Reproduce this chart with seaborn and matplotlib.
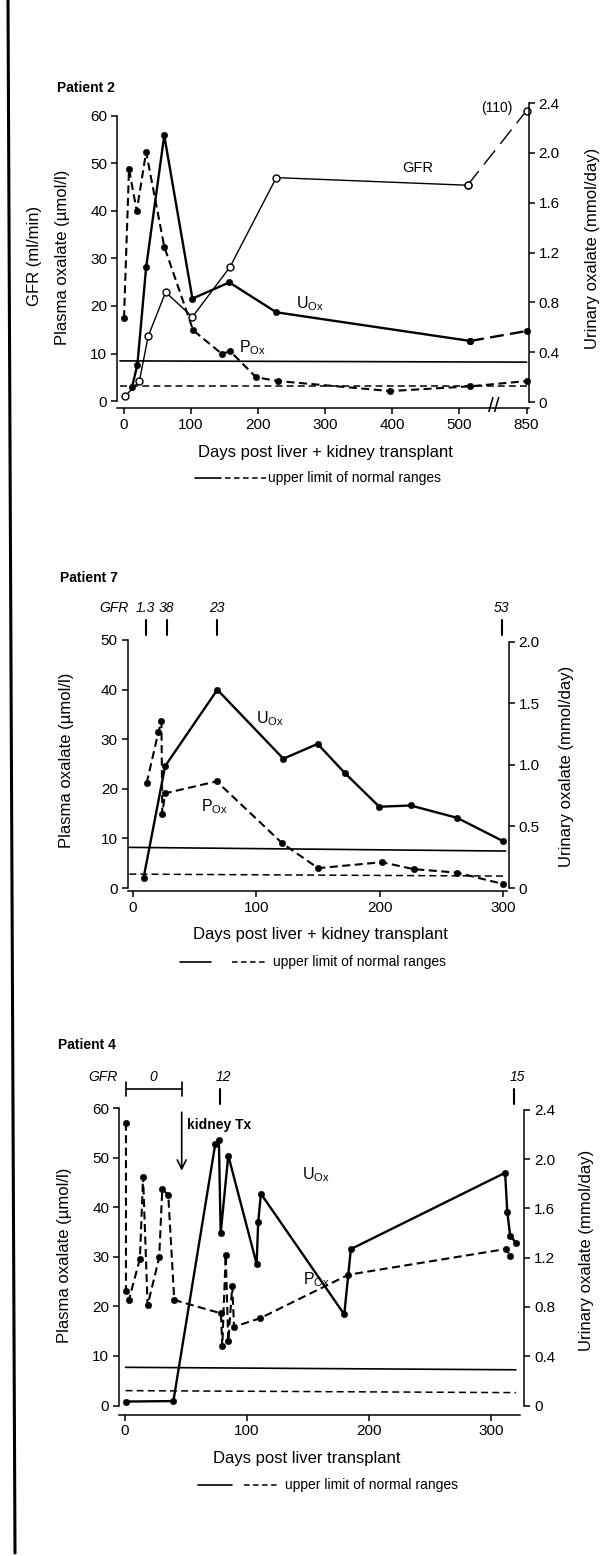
import matplotlib
matplotlib.use("Agg")
import matplotlib.pyplot as plt
import matplotlib.transforms as mtransforms
from matplotlib.lines import Line2D
import seaborn as sns

W, H = 608, 1556

# ---------------- Patient 2 (days; 850 is drawn after the axis break) ----------------
p2_pox_days = [0, 7.5, 19, 33, 60, 103, 146, 158, 197, 230, 397, 516, 850]
p2_pox = [17.4, 48.8, 40, 52.4, 32.5, 14.9, 9.9, 10.5, 5.0, 4.2, 2.1, 3.1, 4.2]
p2_uox_days = [12, 20, 33, 60, 102, 157, 227, 516, 850]
p2_uox = [0.12, 0.30, 1.08, 2.14, 0.83, 0.96, 0.72, 0.49, 0.57]
p2_gfr_days = [1.5, 23, 36, 62, 102, 158, 227, 512, 850]
p2_gfr = [1.0, 4.2, 13.6, 22.9, 17.7, 28.2, 47.0, 45.4, 61.1]
p2_norm_days = [-6, 850]
p2_norm_uox = [0.33, 0.32]
p2_norm_pox = [3.1, 3.1]
p2_xticks = [0, 100, 200, 300, 400, 500, 850]
p2_break_day, p2_break_pos = 850, 600

# ---------------- Patient 7 ----------------
p7_pox_days = [11, 20.5, 23, 23.7, 26, 67.8, 121, 150, 201.7, 227.5, 262.6, 300]
p7_pox = [21.1, 31.4, 33.6, 15.0, 19.1, 21.5, 9.0, 4.0, 5.2, 3.8, 3.1, 0.8]
p7_uox_days = [8.5, 26, 68.3, 121.8, 149.6, 172, 199.6, 225, 262.6, 300]
p7_uox = [0.08, 0.99, 1.61, 1.05, 1.17, 0.93, 0.66, 0.67, 0.57, 0.38]
p7_norm_days = [-3, 302]
p7_norm_uox = [0.33, 0.30]
p7_norm_pox = [2.8, 2.4]
p7_gfr_days = [10.3, 27.3, 68.3, 298.7]
p7_gfr_text = ["1.3", "38", "23", "53"]

# ---------------- Patient 4 ----------------
p4_pox_days = [1, 1, 3.4, 12.4, 15, 18.7, 28.2, 30.7, 35.6, 40.5, 78.7, 79.8,
               82.6, 84.7, 88, 89.4, 110.6, 183, 312, 315.5]
p4_pox = [57.1, 23.2, 21.3, 29.6, 46.2, 20.2, 29.9, 43.7, 42.5, 21.3, 18.6, 12.0,
          30.4, 13.0, 24.1, 15.9, 17.6, 26.4, 31.6, 30.2]
p4_uox_days = [0.7, 39.8, 74, 77, 78.5, 84.7, 107.9, 109.2, 111.4, 179.6, 185,
               311.2, 313, 315.3, 320.2]
p4_uox = [0.032, 0.036, 2.12, 2.16, 1.40, 2.03, 1.15, 1.49, 1.72, 0.74, 1.27,
          1.89, 1.57, 1.38, 1.32]
p4_norm_days = [0.7, 320]
p4_norm_uox = [0.31, 0.29]
p4_norm_pox = [3.0, 2.6]
p4_gfr_days = [78, 318.5]
p4_gfr_text = ["12", "15"]
p4_gfr_zero = [0.7, 46.6]
p4_kidney_tx_day = 46.6

sns.set_theme(style="ticks")
plt.rcParams['font.family'] = ['Liberation Sans', 'DejaVu Sans']
plt.rcParams['mathtext.fontset'] = 'custom'
plt.rcParams['mathtext.rm'] = 'Liberation Sans'
plt.rcParams['mathtext.it'] = 'Liberation Sans:italic'
plt.rcParams['lines.scale_dashes'] = False
plt.rcParams['axes.linewidth'] = 1.1
for k in ['text.color', 'axes.labelcolor', 'xtick.color', 'ytick.color', 'axes.edgecolor']:
    plt.rcParams[k] = 'black'

fig = plt.figure(figsize=(W / 100, H / 100), dpi=100)
fig.patch.set_facecolor('white')


def fx(x):
    return x / W


def fy(y):
    return 1 - y / H


def ftext(x, y, s, **kw):
    kw.setdefault('ha', 'center')
    kw.setdefault('va', 'center')
    fig.text(fx(x), fy(y), s, **kw)


def fline(x0, x1, y, **kw):
    fig.add_artist(Line2D([fx(x0), fx(x1)], [fy(y), fy(y)], transform=fig.transFigure,
                          color='black', **kw))


def panel(left, right, top, bottom, xlim, ylim_l, ylim_r, xb, yb_l, yb_r, drop):
    ax = fig.add_axes([fx(left), fy(bottom), (right - left) / W, (bottom - top) / H])
    ax2 = ax.twinx()
    ax.set_xlim(xlim)
    ax.set_ylim(ylim_l)
    ax2.set_ylim(ylim_r)
    ax.spines[['top', 'right']].set_visible(False)
    ax2.spines[['top', 'left', 'bottom']].set_visible(False)
    ax.spines['bottom'].set_position(('outward', drop * 0.72))
    ax.spines['bottom'].set_bounds(*xb)
    ax.spines['left'].set_bounds(*yb_l)
    ax2.spines['right'].set_bounds(*yb_r)
    for a in (ax, ax2):
        a.tick_params(direction='out', length=4.5, width=1.1, labelsize=11, pad=2.5)
        a.grid(False)
    ax.set_facecolor('none')
    return ax, ax2


def series(ax, x, y, dashes=None, marker='o', open_marker=False, lw=1.5, ms=4.6):
    sns.lineplot(x=x, y=y, ax=ax, sort=False, estimator=None, color='black',
                 linewidth=lw, marker=marker, markersize=ms,
                 markerfacecolor='white' if open_marker else 'black',
                 markeredgecolor='black', markeredgewidth=1.0 if open_marker else 0.4)
    line = ax.lines[-1]
    if dashes:
        line.set_dashes(dashes)
    line.set_clip_on(False)
    ax.set_xlabel('')
    ax.set_ylabel('')
    return line


def norm_lines(ax, ax2, days, uox, pox):
    series(ax2, days, uox, marker=None, lw=1.2)
    series(ax, days, pox, dashes=(5, 3), marker=None, lw=1.1)


def sub(s):
    return s[0] + r'$_{\mathrm{' + s[1:] + '}}$'


# =============== Patient 2 ===============
def p2pos(days):
    return [p2_break_pos if d == p2_break_day else d for d in days]


ax, ax2 = panel(117, 529, 103, 402, (-10.4, 603.6), (-0.2, 62.7), (0.016, 2.4),
                (-10.4, 603), (0, 60), (0, 2.4), 6)
norm_lines(ax, ax2, p2pos(p2_norm_days), p2_norm_uox, p2_norm_pox)
series(ax, p2pos(p2_pox_days), p2_pox, dashes=(5.8, 3.2))
series(ax2, p2pos(p2_uox_days[:-1]), p2_uox[:-1], lw=1.7)
series(ax2, p2pos(p2_uox_days[-2:]), p2_uox[-2:], dashes=(10, 4.5), lw=1.7)
series(ax, p2pos(p2_gfr_days[:-1]), p2_gfr[:-1], open_marker=True, lw=1.0, ms=5)
series(ax, p2pos(p2_gfr_days[-2:]), p2_gfr[-2:], open_marker=True, lw=1.0, ms=5, dashes=(13, 6))
ax.set_xticks(p2pos(p2_xticks), [str(t) for t in p2_xticks])
ax.set_yticks(range(0, 61, 10))
ax2.set_yticks([0, 0.4, 0.8, 1.2, 1.6, 2.0, 2.4], ['0', '0.4', '0.8', '1.2', '1.6', '2.0', '2.4'])
ftext(494, 407, '//', fontsize=15)

ftext(57, 88, 'Patient 2', ha='left', fontsize=10, fontweight='bold')
ftext(35, 256, 'GFR (ml/min)', rotation=90, fontsize=12)
ftext(63, 257, 'Plasma oxalate (\u00b5mol/l)', rotation=90, fontsize=12)
ftext(592, 248, 'Urinary oxalate (mmol/day)', rotation=90, fontsize=12)
ftext(325, 453, 'Days post liver + kidney transplant', fontsize=12)
ftext(418, 168, 'GFR', fontsize=10.5)
ftext(513, 108, '(110)', ha='right', fontsize=10)
ftext(310, 304, sub('UOx'), fontsize=11.5)
ftext(252, 348, sub('POx'), fontsize=11.5)
fline(195, 221, 478, lw=1.2)
fline(225, 266, 478, lw=1.1, dashes=(4, 2.5))
ftext(268, 478, 'upper limit of normal ranges', ha='left', fontsize=10)

# =============== Patient 7 ===============
ax, ax2 = panel(127.5, 509, 640, 888, (-4.5, 304.7), (0, 50), (0.03, 2.014),
                (-4.5, 303), (0, 50), (0, 2.0), 3)
norm_lines(ax, ax2, p7_norm_days, p7_norm_uox, p7_norm_pox)
series(ax, p7_pox_days, p7_pox, dashes=(5.8, 3.2))
series(ax2, p7_uox_days, p7_uox, lw=1.7)
ax.set_xticks([0, 100, 200, 300])
ax.set_yticks(range(0, 51, 10))
ax2.set_yticks([0, 0.5, 1.0, 1.5, 2.0], ['0', '0.5', '1.0', '1.5', '2.0'])
bl = mtransforms.blended_transform_factory(ax.transData, ax.transAxes)
for d, t in zip(p7_gfr_days, p7_gfr_text):
    ax.plot([d, d], [1.02, 1.081], transform=bl, color='black', lw=1.5, clip_on=False)
    ax.text(d, 1.129, t, transform=bl, ha='center', va='center', fontsize=10, style='italic')
ax.text(-4, 1.129, 'GFR', transform=bl, ha='right', va='center', fontsize=10, style='italic')

ftext(60, 578, 'Patient 7', ha='left', fontsize=10, fontweight='bold')
ftext(67, 760, 'Plasma oxalate (\u00b5mol/l)', rotation=90, fontsize=12)
ftext(567, 766, 'Urinary oxalate (mmol/day)', rotation=90, fontsize=12)
ftext(320, 935, 'Days post liver + kidney transplant', fontsize=12)
ftext(270, 719, sub('UOx'), fontsize=11.5)
ftext(214, 807, sub('POx'), fontsize=11.5)
fline(180, 211, 962, lw=1.2)
fline(232, 268, 962, lw=1.1, dashes=(4, 2.5))
ftext(273, 962, 'upper limit of normal ranges', ha='left', fontsize=10)

# =============== Patient 4 ===============
ax, ax2 = panel(119, 524.3, 1108, 1405.5, (-4.7, 326.9), (0, 60.06), (0.032, 2.416),
                (-4.7, 323), (0, 60), (0, 2.4), 9)
norm_lines(ax, ax2, p4_norm_days, p4_norm_uox, p4_norm_pox)
series(ax, p4_pox_days, p4_pox, dashes=(5.8, 3.2))
series(ax2, p4_uox_days, p4_uox, lw=1.7)
ax.set_xticks([0, 100, 200, 300])
ax.set_yticks(range(0, 61, 10))
ax2.set_yticks([0, 0.4, 0.8, 1.2, 1.6, 2.0, 2.4], ['0', '0.4', '0.8', '1.2', '1.6', '2.0', '2.4'])
bl = mtransforms.blended_transform_factory(ax.transData, ax.transAxes)
for d, t in zip(p4_gfr_days, p4_gfr_text):
    ax.plot([d, d], [1.015, 1.065], transform=bl, color='black', lw=1.5, clip_on=False)
    ax.text(d + 3, 1.104, t, transform=bl, ha='center', va='center', fontsize=10, style='italic')
ax.plot(p4_gfr_zero, [1.063, 1.063], transform=bl, color='black', lw=1.2, clip_on=False)
for d in p4_gfr_zero:
    ax.plot([d, d], [1.04, 1.089], transform=bl, color='black', lw=1.2, clip_on=False)
ax.text(sum(p4_gfr_zero) / 2, 1.104, '0', transform=bl, ha='center', va='center',
        fontsize=10, style='italic')
ax.text(-6, 1.104, 'GFR', transform=bl, ha='right', va='center', fontsize=10, style='italic')
ax.annotate('', xy=(p4_kidney_tx_day, 0.78), xytext=(p4_kidney_tx_day, 0.995),
            xycoords=bl, textcoords=bl,
            arrowprops=dict(arrowstyle='->', lw=1.2, color='black', mutation_scale=16))
ax.text(p4_kidney_tx_day + 4, 0.943, 'kidney Tx', transform=bl, ha='left', va='center',
        fontsize=10, fontweight='bold')

ftext(58, 1045, 'Patient 4', ha='left', fontsize=10, fontweight='bold')
ftext(64, 1255, 'Plasma oxalate (\u00b5mol/l)', rotation=90, fontsize=12)
ftext(587, 1250, 'Urinary oxalate (mmol/day)', rotation=90, fontsize=12)
ftext(307, 1458, 'Days post liver transplant', fontsize=12)
ftext(316, 1175, sub('UOx'), fontsize=11.5)
ftext(316, 1280, sub('POx'), fontsize=11.5)
fline(198, 232, 1485, lw=1.2)
fline(244, 280, 1485, lw=1.1, dashes=(4, 2.5))
ftext(285, 1485, 'upper limit of normal ranges', ha='left', fontsize=10)

# scan border on the left
fig.add_artist(Line2D([fx(8), fx(15)], [fy(0), fy(1553)], transform=fig.transFigure,
                      color='black', lw=2.2))

fig.savefig('out.png', dpi=100)
